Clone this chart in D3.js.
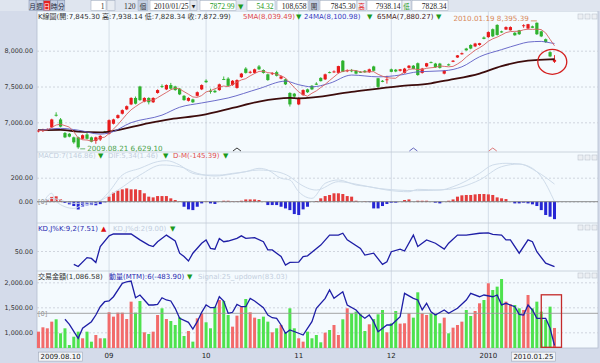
<!DOCTYPE html>
<html>
<head>
<meta charset="utf-8">
<script src="https://cdn.jsdelivr.net/npm/d3@7"></script>
<style>
  body { margin: 0; background: #fff; }
  svg text { font-family: "DejaVu Sans", "Noto Sans CJK TC", sans-serif; }
</style>
</head>
<body>
<div id="chart"></div>
<script>
// ---- data (TAIEX daily, 2009.08.10 - 2010.01.25) ----
var openP = [6875,6880,6890,6930,7105,7040,6850,6840,6790,6790,
  6770,6830,6790,6740,6760,6870,6840,6980,7060,7120,
  7180,7250,7340,7500,7290,7340,7280,7410,7505,7460,
  7520,7500,7470,7370,7300,7320,7370,7460,7580,7440,
  7440,7450,7605,7610,7520,7480,7630,7750,7695,7690,
  7780,7730,7670,7675,7700,7610,7600,7410,7400,7250,
  7380,7460,7510,7540,7620,7600,7700,7705,7690,7860,
  7715,7725,7720,7705,7720,7700,7780,7615,7580,7590,
  7740,7735,7720,7690,7760,7790,7825,7690,7780,7840,
  7820,7820,7680,7810,7845,7905,7950,8030,8080,8060,
  8080,8185,8190,8300,8360,8270,8295,8285,8250,8285,
  8345,8310,8340,8390,8270,8160,7980,7845.30];
var highP = [6905,6910,6915,7050,7140,7060,6865,6850,6800,6800,
  6830,6850,6800,6800,6820,6880,7040,7050,7110,7180,
  7235,7350,7360,7510,7350,7350,7350,7460,7530,7530,
  7550,7510,7480,7380,7350,7330,7430,7530,7600,7470,
  7460,7540,7640,7630,7590,7600,7690,7770,7720,7750,
  7800,7740,7680,7700,7720,7650,7610,7420,7410,7350,
  7460,7470,7520,7560,7630,7680,7710,7725,7790,7870,
  7740,7745,7730,7715,7730,7750,7790,7620,7590,7650,
  7750,7745,7745,7760,7800,7800,7835,7760,7830,7850,
  7830,7830,7730,7820,7870,7940,7975,8040,8090,8110,
  8110,8200,8270,8310,8370,8280,8340,8340,8260,8290,
  8370,8375,8350,8395.39,8280,8170,7990,7938.14];
var lowP = [6860,6865,6880,6920,7080,6930,6780,6790,6700,6629.10,
  6760,6760,6720,6700,6740,6850,6830,6970,7050,7110,
  7170,7240,7250,7300,7280,7250,7270,7400,7480,7450,
  7460,7440,7380,7300,7290,7270,7360,7450,7550,7400,
  7410,7440,7590,7500,7510,7470,7620,7680,7680,7680,
  7730,7680,7580,7660,7640,7600,7520,7220,7340,7240,
  7370,7410,7450,7520,7570,7590,7685,7690,7680,7700,
  7700,7700,7670,7690,7690,7690,7710,7480,7560,7540,
  7700,7700,7710,7680,7750,7740,7650,7680,7770,7825,
  7760,7750,7670,7790,7840,7900,7945,8000,8020,8050,
  8070,8160,8180,8190,8210,8250,8290,8280,8210,8220,
  8320,8300,8315,8220,8190,8110,7910,7828.34];
var closeP = [6885,6890,6900,7040,7095,6940,6790,6800,6720,6650,
  6820,6770,6730,6790,6810,6860,7030,7040,7100,7170,
  7225,7340,7260,7310,7340,7280,7340,7450,7495,7520,
  7470,7450,7390,7310,7340,7280,7420,7520,7560,7425,
  7420,7530,7600,7510,7580,7590,7680,7690,7705,7740,
  7740,7690,7590,7685,7650,7640,7530,7250,7360,7340,
  7450,7420,7460,7525,7575,7670,7690,7710,7785,7705,
  7725,7715,7680,7695,7700,7740,7720,7495,7565,7600,
  7705,7710,7740,7750,7790,7745,7660,7750,7825,7830,
  7770,7760,7720,7795,7860,7935,7965,8005,8030,8100,
  8105,8165,8260,8200,8220,8255,8330,8330,8215,8230,
  8355,8370,8320,8230,8200,8120,7920,7872.99];
// trading value (hundred million NTD)
var volume = [1013,1100,1080,1213,1260,980,1080,746,912,1013,
  880,1013,812,946,880,880,1400,1313,1393,1393,
  1266,1613,1393,1626,1000,966,1013,1346,1480,1266,
  1226,1146,1300,926,1026,813,1280,1380,1200,1080,
  1513,1646,1626,1346,1113,1333,1513,1666,1400,1293,
  1266,1313,1213,1000,1080,1146,1000,1480,1080,880,
  813,1013,880,946,800,993,1046,1146,946,1260,
  1480,1380,1413,1360,1026,1160,1266,1360,1446,1000,
  1180,1426,1173,1180,1380,1293,1800,1380,1346,1380,
  1346,1180,1293,980,1093,1146,1213,1446,1326,1426,
  1580,1646,1980,1846,1913,2066,1613,1560,1546,1480,
  1446,1746,1480,1613,1413,1250,1513,1086.58];
// MACD histogram (D-M)
var macdHist = [0,0,11,40,45,20,-10,-22,-36,-65,
  -40,-30,-28,-30,-20,-5,42,75,92,103,
  111,103,103,97,70,42,36,47,47,47,
  28,14,3,-42,-64,-70,-42,-14,3,-14,
  -19,0,8,8,3,3,8,19,19,19,
  14,0,-28,-28,-28,-42,-56,-70,-103,-111,
  -64,-42,0,6,28,47,56,70,70,64,
  47,42,8,0,3,-3,-56,-56,-36,-19,
  -8,-8,0,14,19,0,8,8,8,0,
  -8,-14,0,8,19,42,53,56,56,61,
  64,64,61,56,36,28,22,0,-14,-14,
  -8,-14,-22,-36,-70,-111,-125,-145.39];
// [bar index, value] points
var difPts = [[1,-14],[3,70],[4,0],[8,-56],[10,-28],[13,-14],[16,83],[19,222],[23,278],[27,334],[29,342],
  [32,306],[35,236],[38,222],[41,222],[44,236],[47,250],[50,278],[52,264],[55,195],[57,181],[59,83],
  [62,28],[65,153],[68,181],[72,139],[75,125],[79,97],[84,83],[86,103],[91,97],[94,125],[100,236],
  [103,306],[106,320],[109,314],[112,278],[114,208],[117,1.46]];
var sigPts = [[1,-14],[3,28],[8,-14],[13,0],[18,97],[23,222],[28,306],[32,292],[36,236],[40,214],
  [44,231],[50,264],[54,250],[57,208],[59,153],[63,97],[68,167],[73,139],[77,111],[86,92],[93,103],
  [100,181],[105,292],[109,314],[113,250],[117,146.86]];
var kdPts = [[8,14],[9,8],[11,32],[12,30],[13,19],[14,62],[16,91],[17,96],[21,96],[23,80],[25,66],
  [26,62],[27,75],[29,93],[31,77],[32,44],[33,35],[34,23],[35,44],[37,71],[38,80],[39,57],[40,55],
  [41,84],[42,75],[43,77],[45,84],[46,91],[47,84],[49,86],[51,75],[52,53],[53,53],[55,35],[56,12],
  [57,19],[59,20],[60,35],[61,37],[64,66],[66,93],[68,93],[69,98],[70,80],[73,57],[74,39],[76,44],
  [78,14],[79,21],[80,48],[82,55],[83,50],[85,93],[86,62],[88,80],[90,71],[92,55],[93,71],[95,93],
  [97,93],[100,98],[102,99],[103,95],[105,93],[106,80],[107,80],[109,44],[111,80],[112,75],[113,48],
  [115,17],[117,7.51]];
var mtmPts = [[6,-90],[7,-165],[9,-375],[10,-225],[12,-126],[13,-26],[14,99],[15,174],[16,185],[17,249],
  [19,450],[20,474],[21,485],[22,234],[23,275],[24,200],[25,125],[26,125],[27,135],[28,234],[29,200],
  [30,185],[31,75],[32,-75],[34,-135],[35,-236],[36,-126],[37,15],[38,125],[39,84],[40,84],[41,249],
  [42,185],[43,0],[44,15],[45,135],[46,99],[47,99],[48,225],[49,185],[51,84],[52,-26],[53,-66],
  [54,-75],[55,-176],[56,-300],[57,-251],[59,-300],[60,-326],[62,-126],[63,75],[65,225],[66,350],
  [67,225],[69,324],[70,125],[72,50],[73,-26],[74,-75],[75,-26],[76,-126],[77,-276],[79,-176],
  [80,-176],[82,-51],[83,300],[85,225],[86,200],[87,50],[88,150],[89,24],[90,-26],[92,50],[93,0],
  [95,75],[97,200],[98,300],[100,249],[101,275],[103,249],[104,275],[105,125],[106,150],[108,99],
  [109,-15],[110,-26],[111,125],[112,50],[113,-75],[115,-75],[116,-225],[117,-483.9]];
var ma24Pts = [[0,6885],[5,6915],[9,6890],[14,6835],[16,6850],[21,6995],[28,7100],[32,7210],[37,7270],
  [43,7340],[50,7470],[56,7575],[59,7525],[62,7495],[66,7545],[71,7660],[77,7635],[82,7660],[86,7705],
  [92,7720],[96,7775],[100,7915],[105,8015],[109,8090],[111,8120],[114,8130],[116,8110],[117,8100.98]];
var ma65Pts = [[0,6890],[5,6895],[9,6870],[14,6860],[16,6870],[25,6990],[30,7045],[37,7100],[44,7200],
  [50,7290],[57,7340],[59,7335],[71,7425],[82,7505],[89,7545],[93,7590],[100,7680],[105,7785],
  [111,7860],[116,7880],[117,7880.27]];

var monthIdx = [16, 38, 59, 80, 102];
var monthLabels = ["09", "10", "11", "12", "2010"];
var firstDate = "2009.08.10";
var lastDate = "2010.01.25";
var lowDate = "2009.08.21";
var highDate = "2010.01.19";
var caretIdx = [45, 85, 103];

var priceTicks = [7000, 7500, 8000];
var macdTicks = [0, 200];
var kdTicks = [50];
var volTicks = [1000, 1500, 2000];

// ---- layout ----
var svgWidth = 600;
var svgHeight = 363;
var plotLeft = 37;
var plotRight = 598;
var plotW = plotRight - plotLeft;

var upColor = "#e8191b";
var downColor = "#2eb22e";
var green = "#1d9a1d";
var faint = "#c3cedd";

var svg = d3.select("#chart")
  .append("svg")
  .attr("width", svgWidth)
  .attr("height", svgHeight);

// Step 1: backgrounds and panels
// ==============================
svg.append("rect").attr("width", svgWidth).attr("height", svgHeight).attr("fill", "#d4dbea");
svg.append("rect")
  .attr("x", plotLeft).attr("y", 11)
  .attr("width", plotW).attr("height", 337)
  .attr("fill", "#f4fafe")
  .attr("stroke", "#b4bfd0").attr("stroke-width", 0.8);

// Step 2: scales
// ==============================
var x = d3.scaleBand()
  .domain(d3.range(closeP.length))
  .range([36.3, 556.7]);
var cx = function(i) { return x(i) + x.bandwidth() / 2; };

var yPrice = d3.scaleLinear().domain([7000, 8000]).range([122.3, 50.7]);
var yMacd = d3.scaleLinear().domain([0, 200]).range([201.7, 177.7]);
var yKd = d3.scaleLinear().domain([0, 100]).range([269.5, 232.5]);
var yVol = d3.scaleLinear().domain([1000, 2000]).range([332.3, 282.3]);
var yMtm = d3.scaleLinear().domain([0, -483.9]).range([313.3, 345.5]);

// month grid lines
svg.append("g").selectAll("line")
  .data(monthIdx)
  .enter()
  .append("line")
  .attr("x1", d => cx(d)).attr("x2", d => cx(d))
  .attr("y1", 11).attr("y2", 348)
  .attr("stroke", "#cbd5e2").attr("stroke-width", 0.8);

// panel separators
[152, 223, 271].forEach(function(py) {
  svg.append("line")
    .attr("x1", plotLeft).attr("x2", plotRight)
    .attr("y1", py).attr("y2", py)
    .attr("stroke", "#c2cad6").attr("stroke-width", 0.8);
});

// Step 3: left axes + dotted grid
// ==============================
function leftAxis(scale, ticks, fmt) {
  var g = svg.append("g")
    .attr("transform", `translate(${plotLeft}, 0)`)
    .call(d3.axisLeft(scale).tickValues(ticks).tickSize(0).tickPadding(4).tickFormat(fmt));
  g.select(".domain").remove();
  g.selectAll("text").attr("font-size", 6.4).attr("fill", "#333")
    .style("font-family", "DejaVu Sans");

  var grid = svg.append("g")
    .attr("transform", `translate(${plotLeft}, 0)`)
    .call(d3.axisRight(scale).tickValues(ticks).tickSize(plotW).tickFormat(""));
  grid.select(".domain").remove();
  grid.selectAll("line").attr("stroke", "#c6ccd6").attr("stroke-dasharray", "2,2").attr("stroke-width", 0.8);
}
leftAxis(yPrice, priceTicks, d3.format(",.2f"));
leftAxis(yMacd, macdTicks, d3.format(",.2f"));
leftAxis(yKd, kdTicks, d3.format(",.2f"));
leftAxis(yVol, volTicks, d3.format(",.2f"));

// Step 4: price panel
// ==============================
svg.append("clipPath").attr("id", "clipMain")
  .append("rect").attr("x", plotLeft).attr("y", 11).attr("width", plotW).attr("height", 141);

var mainGroup = svg.append("g").attr("clip-path", "url(#clipMain)");

var candles = mainGroup.selectAll(".candle")
  .data(closeP)
  .enter()
  .append("g")
  .attr("class", "candle")
  .attr("fill", (d, i) => d >= openP[i] ? upColor : downColor)
  .attr("stroke", (d, i) => d >= openP[i] ? upColor : downColor);

candles.append("line")
  .attr("x1", (d, i) => cx(i)).attr("x2", (d, i) => cx(i))
  .attr("y1", (d, i) => yPrice(highP[i]))
  .attr("y2", (d, i) => yPrice(lowP[i]))
  .attr("stroke-width", 0.9);

candles.append("rect")
  .attr("x", (d, i) => cx(i) - 1.6)
  .attr("width", 3.2)
  .attr("y", (d, i) => yPrice(Math.max(openP[i], d)))
  .attr("height", (d, i) => Math.max(0.9, Math.abs(yPrice(openP[i]) - yPrice(d))))
  .attr("stroke", "none");

// moving averages (5MA from the closes, 24MA / 65MA as read)
var ma5 = closeP.map(function(d, i) {
  return d3.mean(closeP.slice(Math.max(0, i - 4), i + 1));
});
var priceLine = d3.line().x(d => cx(d[0])).y(d => yPrice(d[1]));

mainGroup.append("path")
  .datum(ma65Pts)
  .attr("d", priceLine.curve(d3.curveMonotoneX))
  .attr("fill", "none").attr("stroke", "#3d0c0c").attr("stroke-width", 1.8);
mainGroup.append("path")
  .datum(ma24Pts)
  .attr("d", priceLine.curve(d3.curveMonotoneX))
  .attr("fill", "none").attr("stroke", "#5c5cc4").attr("stroke-width", 0.9);
mainGroup.append("path")
  .datum(ma5.map((d, i) => [i, d]))
  .attr("d", priceLine.curve(d3.curveLinear))
  .attr("fill", "none").attr("stroke", "#d86060").attr("stroke-width", 0.9);

// caret marks at panel bottom
var caretColors = ["#222222", "#5656b4", "#d86a6a"];
svg.append("g").selectAll("path")
  .data(caretIdx)
  .enter()
  .append("path")
  .attr("d", d => `M${cx(d) - 4},151 L${cx(d)},148 L${cx(d) + 4},151`)
  .attr("fill", "none")
  .attr("stroke", (d, i) => caretColors[i])
  .attr("stroke-width", 0.9);

// low / high notes
var lowIdx = d3.minIndex(lowP);
var highIdx = d3.maxIndex(highP);
svg.append("line")
  .attr("x1", cx(lowIdx) + 2).attr("x2", cx(lowIdx) + 7)
  .attr("y1", yPrice(lowP[lowIdx])).attr("y2", yPrice(lowP[lowIdx]))
  .attr("stroke", "#4aa24a").attr("stroke-width", 0.8);
svg.append("text")
  .attr("x", cx(lowIdx) + 9).attr("y", yPrice(lowP[lowIdx]) + 2.4)
  .attr("font-size", 7.2).attr("fill", "#4aa24a")
  .text(lowDate + "  " + d3.format(",.2f")(lowP[lowIdx]));

svg.append("text")
  .attr("x", cx(highIdx) - 8).attr("y", 21)
  .attr("text-anchor", "end")
  .attr("font-size", 7.2).attr("fill", "#d8885a")
  .text(highDate + "  " + d3.format(",.2f")(highP[highIdx]));
svg.append("line")
  .attr("x1", cx(highIdx) - 6).attr("x2", cx(highIdx))
  .attr("y1", yPrice(highP[highIdx]) - 1.5).attr("y2", yPrice(highP[highIdx]) - 1.5)
  .attr("stroke", "#d8885a").attr("stroke-width", 0.9);

// red circle on the last two bars
var lastIdx = closeP.length - 1;
svg.append("ellipse")
  .attr("cx", (cx(lastIdx - 1) + cx(lastIdx)) / 2)
  .attr("cy", yPrice(openP[lastIdx]))
  .attr("rx", 14.5).attr("ry", 12.5)
  .attr("fill", "none").attr("stroke", "#d42020").attr("stroke-width", 1.3);

// Step 5: MACD panel
// ==============================
svg.append("g").selectAll("rect")
  .data(macdHist)
  .enter()
  .append("rect")
  .attr("x", (d, i) => cx(i) - 1.5)
  .attr("width", 3)
  .attr("y", d => Math.min(yMacd(0), yMacd(d)))
  .attr("height", d => Math.abs(yMacd(d) - yMacd(0)))
  .attr("fill", d => d >= 0 ? "#e43c3c" : "#2626d4");

var macdLine = d3.line().x(d => cx(d[0])).y(d => yMacd(d[1])).curve(d3.curveMonotoneX);
[difPts, sigPts].forEach(function(pts) {
  svg.append("path").datum(pts).attr("d", macdLine)
    .attr("fill", "none").attr("stroke", "#cfdcea").attr("stroke-width", 1);
});
svg.append("line")
  .attr("x1", plotLeft).attr("x2", plotRight)
  .attr("y1", yMacd(0)).attr("y2", yMacd(0))
  .attr("stroke", "#7c7c7c").attr("stroke-width", 0.9);
svg.append("text").attr("x", plotLeft + 1).attr("y", yMacd(0) + 2.4)
  .attr("font-size", 6.6).attr("fill", "#999").text("[0]");

// Step 6: KD panel
// ==============================
svg.append("path")
  .datum(kdPts)
  .attr("d", d3.line().x(d => cx(d[0])).y(d => yKd(d[1])))
  .attr("fill", "none").attr("stroke", "#1e1ea6").attr("stroke-width", 1.3);

// Step 7: volume + MTM panel
// ==============================
svg.append("g").selectAll("rect")
  .data(volume)
  .enter()
  .append("rect")
  .attr("x", (d, i) => cx(i) - 1.5)
  .attr("width", 3)
  .attr("y", d => yVol(d))
  .attr("height", d => 348 - yVol(d))
  .attr("fill", (d, i) => closeP[i] >= openP[i] ? "#f26b6b" : "#4ee24e");

svg.append("line")
  .attr("x1", plotLeft).attr("x2", plotRight)
  .attr("y1", yMtm(0)).attr("y2", yMtm(0))
  .attr("stroke", "#9a9a9a").attr("stroke-width", 0.9);
svg.append("text").attr("x", plotLeft + 1).attr("y", yMtm(0) + 2.4)
  .attr("font-size", 6.6).attr("fill", "#999").text("[0]");

svg.append("path")
  .datum(mtmPts)
  .attr("d", d3.line().x(d => cx(d[0])).y(d => yMtm(d[1])))
  .attr("fill", "none").attr("stroke", "#1e1ea6").attr("stroke-width", 1.3);

// red box on the last bars
svg.append("rect")
  .attr("x", cx(lastIdx - 3))
  .attr("y", yVol(1750))
  .attr("width", cx(lastIdx) + 7 - cx(lastIdx - 3))
  .attr("height", 347.3 - yVol(1750))
  .attr("fill", "none").attr("stroke", "#c42a2a").attr("stroke-width", 1.3);

// Step 8: bottom axis
// ==============================
var xAxis = svg.append("g")
  .attr("transform", "translate(0, 348)")
  .call(d3.axisBottom(x).tickValues(monthIdx).tickSize(0).tickPadding(5)
    .tickFormat(d => monthLabels[monthIdx.indexOf(d)]));
xAxis.select(".domain").remove();
xAxis.selectAll("text").attr("font-size", 7).attr("fill", "#222")
  .style("font-family", "DejaVu Sans");

function boxedLabel(tx, anchor, label) {
  var g = svg.append("g");
  var t = g.append("text")
    .attr("x", tx).attr("y", 358.6)
    .attr("text-anchor", anchor)
    .attr("font-size", 7).attr("fill", "#222")
    .text(label);
  var bb = t.node().getBBox();
  g.insert("rect", "text")
    .attr("x", bb.x - 2).attr("y", bb.y - 0.5)
    .attr("width", bb.width + 4).attr("height", bb.height + 1)
    .attr("fill", "#f3f5f8").attr("stroke", "#9ea8b8").attr("stroke-width", 0.6);
}
boxedLabel(cx(0) + 2, "start", firstDate);
boxedLabel(cx(lastIdx) - 1, "end", lastDate);

// Step 9: panel header labels
// ==============================
function label(tx, ty, txt, color) {
  svg.append("text").attr("x", tx).attr("y", ty)
    .attr("font-size", 7).attr("fill", color).text(txt);
}
label(38, 19.2, "K線圖(開:7,845.30 高:7,938.14 低:7,828.34 收:7,872.99)", "#333");
label(243, 19.2, "5MA(8,039.49)", "#e04848");
label(296, 19.2, "▼", green);
label(304, 19.2, "24MA(8,100.98)", "#3a3ac0");
label(367, 19.2, "▼", green);
label(377, 19.2, "65MA(7,880.27)", "#4a1a1a");
label(436, 19.2, "▼", green);

label(38, 158.3, "MACD:7(146.86)", faint);
label(98, 158.3, "▼", green);
label(108, 158.3, "DIF:5,34(1.46)", faint);
label(163, 158.3, "▼", green);
label(173, 158.3, "D-M(-145.39)", "#e05050");
label(223, 158.3, "▼", green);

label(38, 230.6, "KD,J%K:9,2(7.51)", "#2a2ab0");
label(101, 230.6, "▲", "#e01010");
label(113, 230.6, "KD,J%d:2(9.00)", faint);
label(170, 230.6, "▼", green);

label(38, 278.6, "交易金額(1,086.58)", "#333");
label(109, 278.6, "動量(MTM):6(-483.90)", "#2a2ab0");
label(187, 278.6, "▼", green);
label(198, 278.6, "Signal:25_updown(83.03)", faint);

// small window buttons at the right of each panel
[14, 155, 225, 273].forEach(function(py) {
  [578, 585, 592].forEach(function(px) {
    svg.append("rect").attr("x", px).attr("y", py).attr("width", 5).attr("height", 5)
      .attr("fill", "#eceff3").attr("stroke", "#b2bac6").attr("stroke-width", 0.5);
  });
});

// Step 10: toolbar
// ==============================
var bar = svg.append("g");
bar.append("rect").attr("width", svgWidth).attr("height", 11).attr("fill", "#dfe5ef");

var periods = ["月", "週", "日", "時", "分"];
periods.forEach(function(p, i) {
  var bx = 29 + i * 7.2;
  bar.append("rect").attr("x", bx).attr("y", 0.5).attr("width", 7).attr("height", 10)
    .attr("fill", p === "日" ? "#e52222" : "#c3cfe4")
    .attr("stroke", "#7f8dab").attr("stroke-width", 0.5);
  bar.append("text").attr("x", bx + 3.5).attr("y", 8.5).attr("text-anchor", "middle")
    .attr("font-size", 6.6).attr("fill", p === "日" ? "#fff" : "#223")
    .text(p);
});

var fields = [
  {x: 91, w: 15, t: "1", c: "#333", bg: "#fff"},
  {x: 107, w: 8, t: "", c: "#333", bg: "#e8ecf2"},
  {x: 120, w: 17, t: "120", c: "#333", bg: null},
  {x: 138, w: 10, t: "個", c: "#333", bg: "#c3cfe4"},
  {x: 150, w: 40, t: "2010/01/25", c: "#222", bg: "#fff"},
  {x: 200, w: 36, t: "7872.99", c: green, bg: "#fff"},
  {x: 247, w: 28, t: "54.32", c: green, bg: "#fff"},
  {x: 277, w: 31, t: "108,658", c: "#222", bg: "#fff"},
  {x: 309, w: 10, t: "開", c: "#333", bg: "#c3cfe4"},
  {x: 320, w: 37, t: "7845.30", c: "#222", bg: "#fff"},
  {x: 357, w: 9, t: "高", c: "#e01010", bg: "#eef1f6"},
  {x: 367, w: 35, t: "7938.14", c: "#222", bg: "#fff"},
  {x: 402, w: 9, t: "低", c: green, bg: "#eef1f6"},
  {x: 412, w: 36, t: "7828.34", c: "#222", bg: "#fff"}
];
fields.forEach(function(f) {
  if (f.bg) {
    bar.append("rect").attr("x", f.x).attr("y", 0.5).attr("width", f.w).attr("height", 10)
      .attr("fill", f.bg).attr("stroke", "#9aa6ba").attr("stroke-width", 0.5);
  }
  var cjk = /[^\x00-\x7f]/.test(f.t);
  bar.append("text")
    .attr("x", cjk ? f.x + f.w / 2 : f.x + f.w - 1.5)
    .attr("y", 8.6)
    .attr("text-anchor", cjk ? "middle" : "end")
    .attr("font-size", cjk ? 6.6 : 7.6)
    .style("font-family", cjk ? "Noto Sans CJK TC" : "Liberation Serif")
    .attr("fill", f.c)
    .text(f.t);
});
// dropdown arrow of the date box, and the change arrow
bar.append("rect").attr("x", 190).attr("y", 0.5).attr("width", 7).attr("height", 10)
  .attr("fill", "#e4e8ef").attr("stroke", "#9aa6ba").attr("stroke-width", 0.5);
bar.append("text").attr("x", 193.5).attr("y", 7.6).attr("text-anchor", "middle")
  .attr("font-size", 4.6).attr("fill", "#222").text("▼");
bar.append("text").attr("x", 238).attr("y", 8.6)
  .attr("font-size", 7).attr("fill", green).text("▼");
</script>
</body>
</html>
